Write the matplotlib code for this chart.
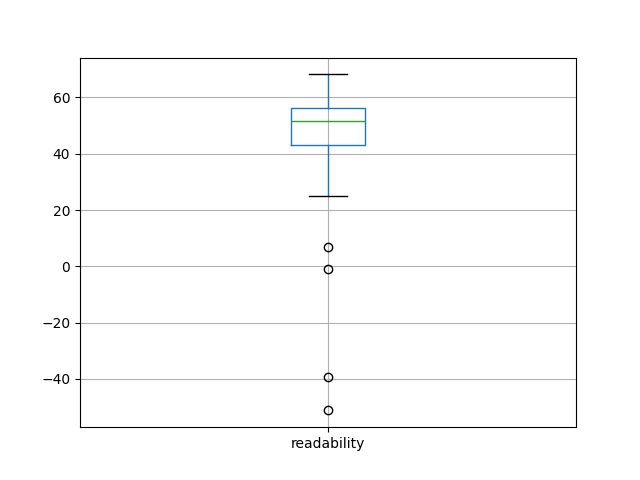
import matplotlib
matplotlib.use("Agg")
import matplotlib.pyplot as plt

# box statistics
labels = ["readability"]
whislo = [24.9]
q1 = [43.0]
med = [51.5]
q3 = [56.1]
whishi = [68.2]
fliers = [[6.7, -1.1, -39.4, -51.2]]

stats = []
for i in range(len(labels)):
    stats.append({"label": labels[i], "whislo": whislo[i], "q1": q1[i],
                  "med": med[i], "q3": q3[i], "whishi": whishi[i],
                  "fliers": fliers[i]})

fig, ax = plt.subplots(figsize=(6.4, 4.8), dpi=100)
ax.bxp(stats,
       boxprops=dict(color="#1f77b4"),
       whiskerprops=dict(color="#1f77b4"),
       medianprops=dict(color="#2ca02c"),
       capprops=dict(color="k"))
ax.grid(True)
ax.set_axisbelow(True)

fig.savefig("out.png")
